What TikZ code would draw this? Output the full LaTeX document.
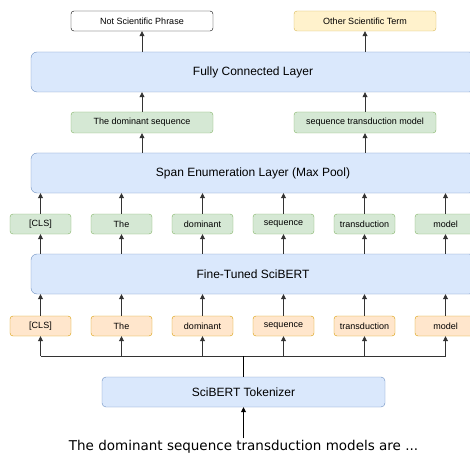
\documentclass[tikz,border=0pt]{standalone}
\usepackage{fontspec}
\setmainfont{Liberation Sans}
\newfontfamily\sentfont{DejaVu Sans}
\usetikzlibrary{arrows.meta}
\definecolor{blueFill}{HTML}{DAE8FC}
\definecolor{blueLine}{HTML}{6C8EBF}
\definecolor{greenFill}{HTML}{D5E8D4}
\definecolor{greenLine}{HTML}{82B366}
\definecolor{orangeFill}{HTML}{FFE6CC}
\definecolor{orangeLine}{HTML}{D79B00}
\definecolor{yellowFill}{HTML}{FFF2CC}
\definecolor{yellowLine}{HTML}{D6B656}
\definecolor{wireGray}{HTML}{333333}

\begin{document}
\begin{tikzpicture}[x=1pt, y=-1pt,
    layer/.style={draw=blueLine, fill=blueFill, rounded corners=6pt, minimum width=444pt,
        minimum height=40pt, font=\fontsize{12}{14}\selectfont},
    box/.style={rounded corners=3pt, minimum width=142pt, minimum height=20pt, inner sep=0pt,
        font=\fontsize{9}{10}\selectfont},
    tok/.style={box, minimum width=61pt},
    arr/.style={-{Triangle[length=5pt, width=5pt]}, line width=0.8pt, draw=wireGray}]
    \useasboundingbox (0,0) rectangle (470,454);

    % outputs
    \node[box, draw=black, fill=white] (nsp) at (142,21) {Not Scientific Phrase};
    \node[box, draw=yellowLine, fill=yellowFill] (ost) at (365,21) {Other Scientific Term};

    % layers
    \node[layer] (fc) at (253,72) {Fully Connected Layer};
    \node[box, draw=greenLine, fill=greenFill, minimum height=21pt] (span1) at (142,122.5) {The dominant sequence};
    \node[box, draw=greenLine, fill=greenFill, minimum height=21pt] (span2) at (365,122.5) {sequence transduction model};
    \node[layer] (sel) at (253,173) {Span Enumeration Layer (Max Pool)};
    \node[layer] (ft) at (253,274) {Fine-Tuned SciBERT};
    \node[layer, minimum width=283pt, minimum height=30pt, rounded corners=4pt] (tokz) at (243.5,392) {SciBERT Tokenizer};
    \node[font=\sentfont\fontsize{13.5}{16}\selectfont, inner sep=2pt] (sent) at (243.5,447) {The dominant sequence transduction models are ...};

    \coordinate (bus) at (243.5,356);

    % tokens
    \foreach \w [count=\i] in {{[CLS]},The,dominant,sequence,transduction,model} {
        \node[tok, draw=orangeLine, fill=orangeFill] (emb\i) at (40.5+81*\i-81,326) {\w};
        \node[tok, draw=greenLine, fill=greenFill] (hid\i) at (40.5+81*\i-81,224) {\w};
        \draw[arr] (emb\i.south |- bus) -- (emb\i.south);
        \draw[arr] (emb\i.north) -- (emb\i.north |- ft.south);
        \draw[arr] (hid\i.south |- ft.north) -- (hid\i.south);
        \draw[arr] (hid\i.north) -- (hid\i.north |- sel.south);
    }
    \draw[line width=0.8pt, draw=wireGray] (emb1.south |- bus) -- (emb6.south |- bus);
    \draw[line width=0.8pt] (tokz.north) -- (bus);
    \draw[arr, draw=black] (sent.north) -- (tokz.south);

    % spans and outputs
    \draw[arr] (span1.south |- sel.north) -- (span1.south);
    \draw[arr] (span2.south |- sel.north) -- (span2.south);
    \draw[arr] (span1.north) -- (span1.north |- fc.south);
    \draw[arr] (span2.north) -- (span2.north |- fc.south);
    \draw[arr] (nsp.south |- fc.north) -- (nsp.south);
    \draw[arr] (ost.south |- fc.north) -- (ost.south);
\end{tikzpicture}
\end{document}
